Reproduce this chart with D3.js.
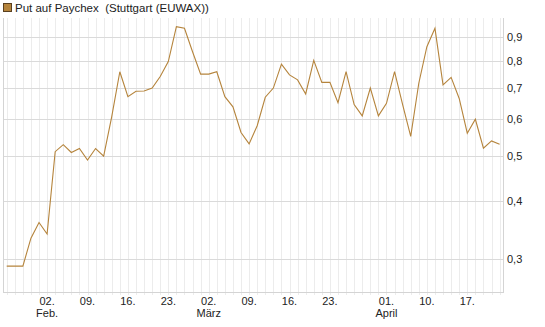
<!DOCTYPE html>
<html><head><meta charset="utf-8">
<script src="https://cdn.jsdelivr.net/npm/d3@7"></script>
<style>body{margin:0;background:#fff;}svg{display:block;font-family:"Liberation Sans",Arial,sans-serif;}</style>
</head><body><svg id="c" width="545" height="327"></svg>
<script>
const title = "Put auf Paychex  (Stuttgart (EUWAX))";
const dates = [
"2015-01-26","2015-01-27","2015-01-28","2015-01-29","2015-01-30",
"2015-02-02","2015-02-03","2015-02-04","2015-02-05","2015-02-06",
"2015-02-09","2015-02-10","2015-02-11","2015-02-12","2015-02-13",
"2015-02-16","2015-02-17","2015-02-18","2015-02-19","2015-02-20",
"2015-02-23","2015-02-24","2015-02-25","2015-02-26","2015-02-27",
"2015-03-02","2015-03-03","2015-03-04","2015-03-05","2015-03-06",
"2015-03-09","2015-03-10","2015-03-11","2015-03-12","2015-03-13",
"2015-03-16","2015-03-17","2015-03-18","2015-03-19","2015-03-20",
"2015-03-23","2015-03-24","2015-03-25","2015-03-26","2015-03-27",
"2015-03-30","2015-03-31",
"2015-04-01","2015-04-02","2015-04-07","2015-04-08","2015-04-09","2015-04-10",
"2015-04-13","2015-04-14","2015-04-15","2015-04-16","2015-04-17",
"2015-04-20","2015-04-21","2015-04-22","2015-04-23"];
const values = [
0.29,0.29,0.29,0.333,0.36,
0.34,0.511,0.529,0.509,0.519,
0.49,0.519,0.50,0.608,0.759,
0.671,0.689,0.69,0.70,0.741,
0.798,0.949,0.941,0.838,0.75,
0.75,0.759,0.671,0.638,0.562,
0.531,0.581,0.669,0.70,0.788,
0.747,0.729,0.68,0.803,0.72,
0.72,0.651,0.759,0.645,0.61,
0.70,0.61,
0.649,0.759,0.645,0.551,0.717,0.859,
0.941,0.711,0.738,0.665,0.56,
0.60,0.52,0.539,0.53];
const yTicks = [0.3,0.4,0.5,0.6,0.7,0.8,0.9];
const xTickDates = ["2015-02-02","2015-02-09","2015-02-16","2015-02-23","2015-03-02","2015-03-09","2015-03-16","2015-03-23","2015-04-01","2015-04-10","2015-04-17"];
const monthNames = ["Jan.","Feb.","März","April"];

const svg = d3.select("#c");
const L = 3, R = 503, T = 18, B = 292;
const x = d3.scaleLinear().domain([0, dates.length - 1]).range([6.7, 499.6]);
const y = d3.scaleLog().domain([0.3, 0.9]).range([259.3, 37.3]);
const lineColor = "#b5843c";

// vertical gridlines
svg.append("g").selectAll("line").data(dates).join("line")
  .attr("x1", (d,i) => Math.round(x(i)) + 0.5).attr("x2", (d,i) => Math.round(x(i)) + 0.5)
  .attr("y1", T).attr("y2", B + 3)
  .attr("stroke", "#ececec").attr("stroke-width", 1);

// horizontal gridlines
svg.append("g").selectAll("line").data(yTicks).join("line")
  .attr("x1", L).attr("x2", R)
  .attr("y1", d => Math.round(y(d)) + 0.5).attr("y2", d => Math.round(y(d)) + 0.5)
  .attr("stroke", "#dadada").attr("stroke-width", 1);

// axes frame
svg.append("line").attr("x1", L + 0.5).attr("x2", L + 0.5).attr("y1", T).attr("y2", B + 1).attr("stroke", "#d4d4d4");
svg.append("line").attr("x1", R + 0.5).attr("x2", R + 0.5).attr("y1", T).attr("y2", B + 1).attr("stroke", "#d4d4d4");
svg.append("line").attr("x1", L).attr("x2", R + 1).attr("y1", B + 0.5).attr("y2", B + 0.5).attr("stroke", "#d4d4d4");

// y labels
const fmt = d => d3.format(".1f")(d).replace(".", ",");
svg.append("g").selectAll("text").data(yTicks).join("text")
  .attr("x", 507).attr("y", d => y(d)).attr("dy", "0.35em")
  .attr("font-size", 11).attr("fill", "#222").text(fmt);

// x labels
const idx = d => dates.indexOf(d);
const xl = svg.append("g");
xTickDates.forEach(d => {
  const dt = new Date(d + "T00:00:00");
  const i = idx(d);
  xl.append("text").attr("x", x(i)).attr("y", 304.5).attr("text-anchor", "middle")
    .attr("font-size", 11).attr("fill", "#222").text(String(dt.getDate()).padStart(2, "0") + ".");
});
const monthStarts = [];
dates.forEach((d, i) => { if (i > 0 && d.slice(5,7) !== dates[i-1].slice(5,7)) monthStarts.push(i); });
monthStarts.forEach(i => {
  const m = +dates[i].slice(5,7) - 1;
  xl.append("text").attr("x", x(i)).attr("y", 317).attr("text-anchor", "middle")
    .attr("font-size", 11).attr("fill", "#222").text(monthNames[m]);
});

// line
svg.append("path").datum(values)
  .attr("d", d3.line().x((d,i) => x(i)).y(d => y(d)))
  .attr("fill", "none").attr("stroke", lineColor).attr("stroke-width", 1.1);

// legend/title
svg.append("rect").attr("x", 3.5).attr("y", 3.5).attr("width", 8).attr("height", 8)
  .attr("fill", lineColor).attr("stroke", "#5a4020").attr("stroke-width", 1);
svg.append("text").attr("x", 15).attr("y", 12).attr("font-size", 11.5).attr("fill", "#222")
  .style("white-space", "pre").text(title);
</script></body></html>
